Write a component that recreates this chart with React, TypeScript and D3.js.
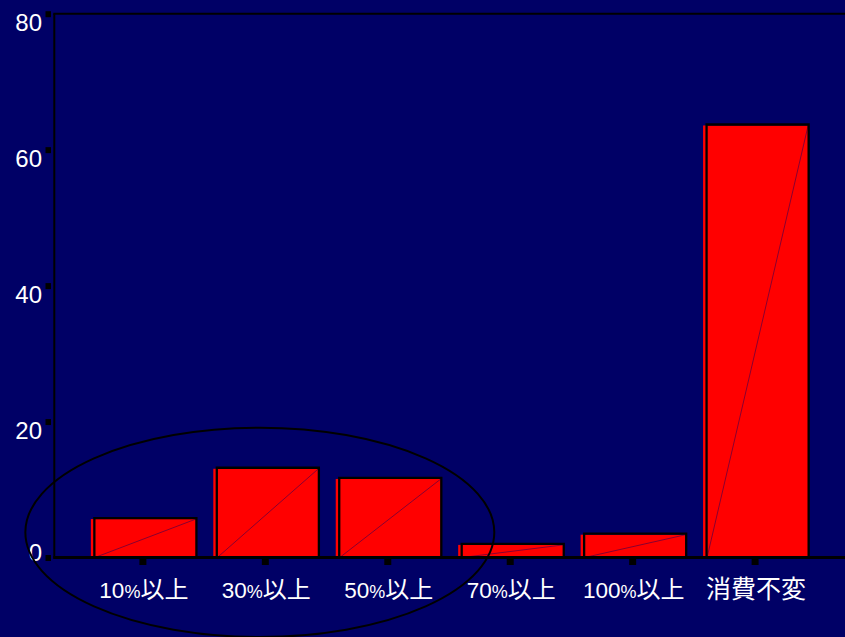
import React from "react";
import * as d3 from "d3";

const categories = ["10%以上", "30%以上", "50%以上", "70%以上", "100%以上", "消費不変"];
const values = [5.8, 13.2, 11.7, 2.0, 3.5, 63.7];
const yTicks = [0, 20, 40, 60, 80];

const W = 845;
const H = 637;
const BG = "#000066";

export default function App() {
  const x = d3.scalePoint<string>().domain(categories).range([54, 844]).padding(0.726);
  const y = d3.scaleLinear().domain([0, 80]).range([557.5, 13.7]);
  const step = x.step();
  const half = step * 0.425;
  const base = y(0);

  const splitLabel = (s: string) => {
    const i = s.indexOf("%");
    if (i < 0) return [<tspan key="a">{s}</tspan>];
    return [
      <tspan key="a" fontSize={22.5}>{s.slice(0, i)}</tspan>,
      <tspan key="b" fontSize={18}>%</tspan>,
      <tspan key="c" fontSize={24}>{s.slice(i + 1)}</tspan>,
    ];
  };

  // annotation ellipse around first three categories
  const eLeft = (x(categories[0]) as number) - 0.96 * step;
  const eRight = (x(categories[2]) as number) + 0.87 * step;
  const eTop = y(19.1);
  const eBottom = y(-11.7);

  return (
    <svg
      width={W}
      height={H}
      style={{ position: "absolute", left: 0, top: 0, display: "block" }}
      fontFamily="'Liberation Sans', Arial, 'Noto Sans CJK JP', sans-serif"
    >
      <rect x={0} y={0} width={W} height={H} fill={BG} />

      {/* bars */}
      {categories.map((c, i) => {
        const cx = (x(c) as number) + 1;
        const top = y(values[i]);
        return (
          <g key={c}>
            <rect x={cx - half - 1} y={top + 1} width={2 * half + 1} height={base - top - 1} fill="#ff0000" />
            <line x1={cx - half + 3} y1={base} x2={cx + half} y2={top + 1} stroke="#8a0030" strokeWidth={1} />
            <path
              d={`M${cx - half + 2.5},${base} V${top} H${cx + half + 0.5} V${base}`}
              fill="none"
              stroke="#000"
              strokeWidth={2.3}
            />
          </g>
        );
      })}

      {/* axes */}
      <line x1={54.3} y1={y(80)} x2={54.3} y2={base + 1} stroke="#000" strokeWidth={2} />
      <line x1={53.3} y1={y(80)} x2={W} y2={y(80)} stroke="#000" strokeWidth={2} />
      <line x1={53.3} y1={base} x2={W} y2={base} stroke="#000" strokeWidth={3} />

      {/* y ticks */}
      {yTicks.map((t) => (
        <g key={t}>
          <rect x={45.5} y={y(t) - 2.5} width={5.5} height={6} fill="#000" />
          <text
            x={42}
            y={y(t) + (t === 0 ? 3.5 : 17)}
            textAnchor="end"
            fontSize={24}
            fill="#ffffff"
          >
            {t}
          </text>
        </g>
      ))}

      {/* x ticks */}
      {categories.map((c) => (
        <g key={c}>
          <rect x={(x(c) as number) - 3.5} y={base + 1.5} width={7} height={6} fill="#000" />
          <text x={(x(c) as number) + 1} y={598} textAnchor="middle" fontSize={25} fill="#ffffff">
            {splitLabel(c)}
          </text>
        </g>
      ))}

      {/* annotation ellipse */}
      <ellipse
        cx={(eLeft + eRight) / 2}
        cy={(eTop + eBottom) / 2}
        rx={(eRight - eLeft) / 2}
        ry={(eBottom - eTop) / 2}
        fill="none"
        stroke="#000"
        strokeWidth={2}
      />
    </svg>
  );
}
